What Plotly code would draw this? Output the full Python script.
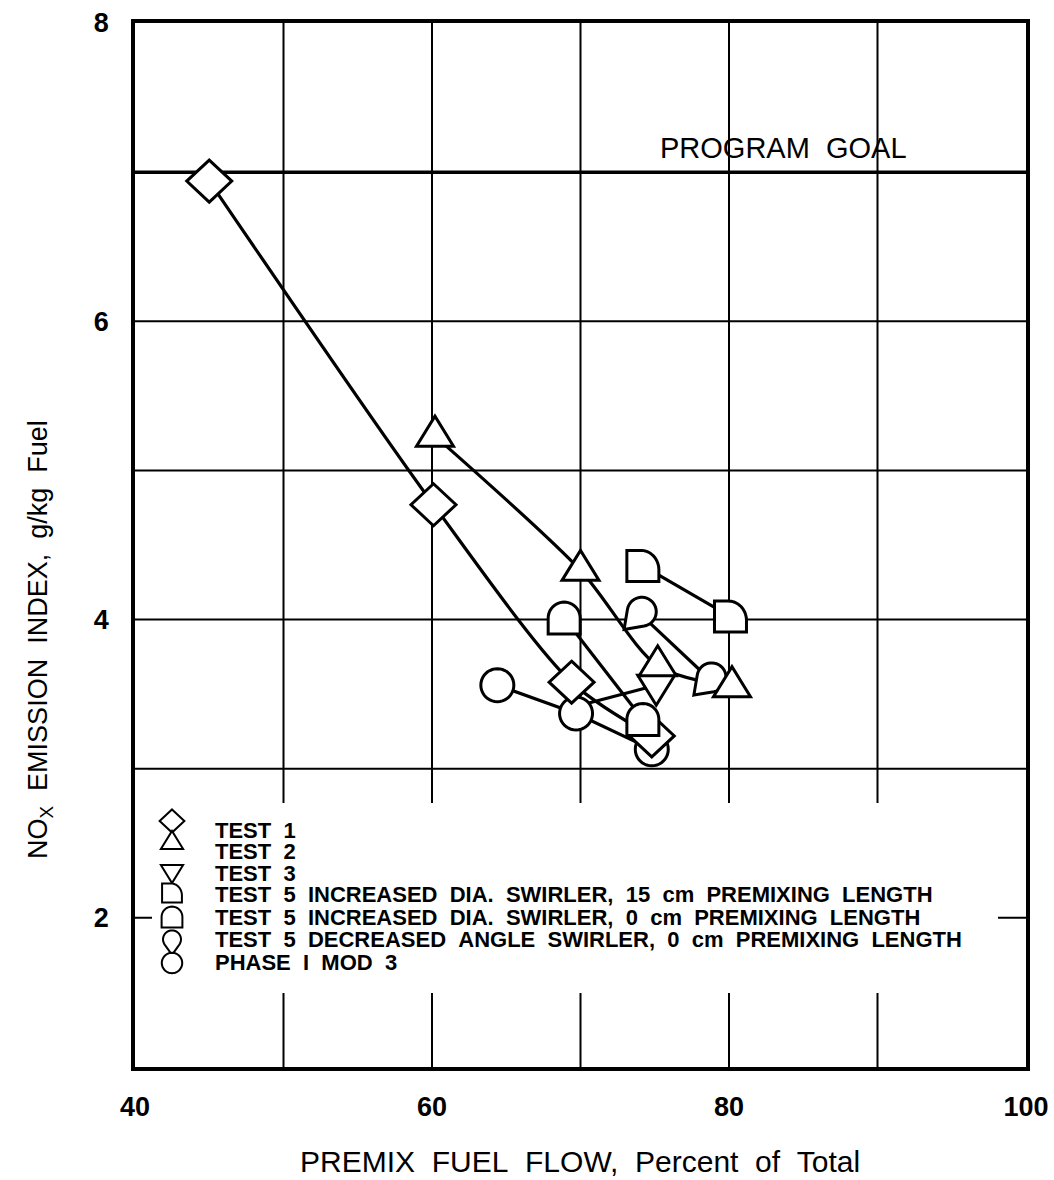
import math
import plotly.graph_objects as go

# ---------------- data ----------------
TEST1_X = [45.0, 60.1, 69.4, 74.8]
TEST1_Y = [6.94, 4.77, 3.58, 3.22]

TEST2_X = [60.2, 70.0, 75.2, 80.2]
TEST2_Y = [5.23, 4.33, 3.69, 3.55]

TEST3_X = [69.8, 75.1]
TEST3_Y = [3.42, 3.56]

T5_15CM_X = [74.2, 80.1]
T5_15CM_Y = [4.36, 4.02]

T5_0CM_X = [68.9, 74.2]
T5_0CM_Y = [4.01, 3.33]

T5_DA_X = [74.0, 78.7]
T5_DA_Y = [4.04, 3.60]

PH1_X = [64.4, 69.7, 74.8]
PH1_Y = [3.56, 3.37, 3.13]

PROGRAM_GOAL = 7

X_TICKS = [40, 60, 80, 100]
X_TICK_TEXT = ["40", "60", "80", "100"]
Y_TICKS = [2, 4, 6, 8]
Y_TICK_TEXT = ["2", "4", "6", "8"]
GRID_X = [50, 60, 70, 80, 90]
GRID_Y = [2, 3, 4, 5, 6, 7]

LEGEND_LABELS = [
    "TEST 1",
    "TEST 2",
    "TEST 3",
    "TEST 5 INCREASED DIA. SWIRLER, 15 cm PREMIXING LENGTH",
    "TEST 5 INCREASED DIA. SWIRLER, 0 cm PREMIXING LENGTH",
    "TEST 5 DECREASED ANGLE SWIRLER, 0 cm PREMIXING LENGTH",
    "PHASE I MOD 3",
]

X_TITLE = "PREMIX FUEL FLOW, Percent of Total"
Y_TITLE = "NO<sub>X</sub> EMISSION INDEX, g/kg Fuel"
GOAL_TEXT = "PROGRAM GOAL"

# ---------------- layout geometry (page pixels) ----------------
FIG_W, FIG_H = 1054, 1180
L, R, T, B = 135, 1026, 23, 1067   # plot area on the page


def px2paper_x(px):
    return (px - L) / (R - L)


def px2paper_y(py):
    return (B - py) / (B - T)


def wide(s):
    # hand-lettered original uses wide word gaps
    return s.replace(" ", "\u00a0\u00a0")


# ---------------- symbol outlines (pixel offsets, y up) ----------------
def arc(cx, cy, rx, ry, a0, a1, n=24):
    return [(cx + rx * math.cos(math.radians(a0 + (a1 - a0) * i / n)),
             cy + ry * math.sin(math.radians(a0 + (a1 - a0) * i / n))) for i in range(n + 1)]


def sym_diamond(s=1.0):
    hw, hh = 22.5 * s, 21 * s
    return [(0, hh), (hw, 0), (0, -hh), (-hw, 0)]


def sym_tri_up(s=1.0):
    w, h = 37 * s, 30 * s
    return [(-w / 2, -h / 3), (w / 2, -h / 3), (0, 2 * h / 3)]


def sym_tri_down(s=1.0):
    w, h = 37 * s, 30 * s
    return [(-w / 2, h / 3), (w / 2, h / 3), (0, -2 * h / 3)]


def sym_circle(s=1.0):
    return arc(0, 0, 16.5 * s, 16.5 * s, 0, 360, 40)[:-1]


def sym_d_round_top(s=1.0):
    hw, hh = 16 * s, 16 * s
    pts = [(-hw, -hh), (hw, -hh), (hw, 0)]
    pts += arc(0, 0, hw, hh, 0, 180, 24)[1:-1]
    pts += [(-hw, 0)]
    return pts


def sym_d_quarter(s=1.0):
    hw, hh = 16 * s, 15.5 * s
    cx, cy = -2 * s, -4 * s
    rx, ry = hw - cx, hh - cy
    pts = [(-hw, -hh), (-hw, hh), (cx, hh)]
    pts += arc(cx, cy, rx, ry, 90, 0, 20)[1:]
    pts += [(hw, -hh)]
    return pts


def sym_teardrop(s=1.0, direction=225):
    r, d = 14.5 * s, 25 * s
    th = math.radians(direction)
    ox, oy = -0.25 * (d - r) * math.cos(th), -0.25 * (d - r) * math.sin(th)
    tipx, tipy = ox + d * math.cos(th), oy + d * math.sin(th)
    alpha = math.degrees(math.acos(r / d))
    pts = [(tipx, tipy)]
    pts += arc(ox, oy, r, r, direction + alpha, direction + 360 - alpha, 30)
    return pts


def path_of(points):
    return "M" + " L".join(f"{x:.2f},{y:.2f}" for x, y in points) + " Z"


def marker_shape(points, ax, ay, xref="x", yref="y", lw=3):
    return dict(type="path", xref=xref, yref=yref,
                xsizemode="pixel", ysizemode="pixel",
                xanchor=ax, yanchor=ay, path=path_of(points),
                fillcolor="white", line=dict(color="black", width=lw),
                layer="above")


# series: (name, x, y, symbol fn, spline?, first point with a visible marker)
SERIES = [
    ("PHASE I MOD 3", PH1_X, PH1_Y, sym_circle, False, 0),
    ("TEST 1", TEST1_X, TEST1_Y, sym_diamond, True, 0),
    ("TEST 5 0 cm", T5_0CM_X, T5_0CM_Y, sym_d_round_top, False, 0),
    ("TEST 5 15 cm", T5_15CM_X, T5_15CM_Y, sym_d_quarter, False, 0),
    ("TEST 5 DEC ANGLE", T5_DA_X, T5_DA_Y, sym_teardrop, False, 0),
    ("TEST 3", TEST3_X, TEST3_Y, sym_tri_down, False, 1),
    ("TEST 2", TEST2_X, TEST2_Y, sym_tri_up, True, 0),
]

fig = go.Figure()
shapes = []

# grid (drawn as shapes so the key panel can mask it)
for gx in GRID_X:
    shapes.append(dict(type="line", xref="x", yref="paper", x0=gx, x1=gx, y0=0, y1=1,
                       line=dict(color="black", width=2), layer="below"))
for gy in GRID_Y:
    shapes.append(dict(type="line", xref="paper", yref="y", x0=0, x1=1, y0=gy, y1=gy,
                       line=dict(color="black", width=2), layer="below"))
# white panel behind the key
shapes.append(dict(type="rect", xref="paper", yref="paper",
                   x0=px2paper_x(152), x1=px2paper_x(998),
                   y0=px2paper_y(993), y1=px2paper_y(803),
                   fillcolor="white", line=dict(width=0), layer="below"))
# heavy program-goal line
shapes.append(dict(type="line", xref="paper", yref="y", x0=0, x1=1,
                   y0=PROGRAM_GOAL, y1=PROGRAM_GOAL,
                   line=dict(color="black", width=3.5), layer="below"))

for name, xs, ys, sym, smooth, first in SERIES:
    fig.add_trace(go.Scatter(
        x=xs, y=ys, mode="lines", name=name, showlegend=False,
        line=dict(color="black", width=3.2, shape="spline" if smooth else "linear",
                  smoothing=0.8),
        hoverinfo="x+y"))
    for i, (x, y) in enumerate(zip(xs, ys)):
        if i >= first:
            shapes.append(marker_shape(sym(), x, y))

# ---------------- key ----------------
KEY_SYMBOLS = [
    lambda: sym_diamond(0.55),
    lambda: sym_tri_up(0.6),
    lambda: sym_tri_down(0.6),
    lambda: sym_d_quarter(0.62),
    lambda: sym_d_round_top(0.65),
    lambda: sym_teardrop(0.62, 270),
    lambda: sym_circle(0.62),
]
KEY_SYM_PX = 172
KEY_SYM_PY = [821, 843, 871, 893, 917, 941, 963]
KEY_TEXT_PX = 213
KEY_TEXT_PY = [830, 851, 873, 895, 917, 939, 962]

annotations = []
for fn, spy, label, tpy in zip(KEY_SYMBOLS, KEY_SYM_PY, LEGEND_LABELS, KEY_TEXT_PY):
    shapes.append(marker_shape(fn(), px2paper_x(KEY_SYM_PX), px2paper_y(spy),
                               xref="paper", yref="paper", lw=2))
    annotations.append(dict(
        text=wide(label), xref="paper", yref="paper",
        x=px2paper_x(KEY_TEXT_PX), y=px2paper_y(tpy),
        xanchor="left", yanchor="middle", showarrow=False,
        font=dict(family="Liberation Sans, Arial", size=22, color="black", weight="bold")))

annotations.append(dict(
    text=wide(GOAL_TEXT), xref="paper", yref="paper",
    x=px2paper_x(783), y=px2paper_y(148), xanchor="center", yanchor="middle",
    showarrow=False, font=dict(family="Liberation Sans, Arial", size=29, color="black")))

annotations.append(dict(
    text=wide(X_TITLE), xref="paper", yref="paper",
    x=px2paper_x(580), y=px2paper_y(1161), xanchor="center", yanchor="middle",
    showarrow=False, font=dict(family="Liberation Sans, Arial", size=30, color="black")))

annotations.append(dict(
    text=wide(Y_TITLE), xref="paper", yref="paper", textangle=-90,
    x=px2paper_x(40), y=px2paper_y(640), xanchor="center", yanchor="middle",
    showarrow=False, font=dict(family="Liberation Sans, Arial", size=27, color="black")))

axis_common = dict(
    showline=True, mirror=True, linecolor="black", linewidth=3.5,
    showgrid=False, zeroline=False, ticks="", fixedrange=True,
    automargin=False, ticklabeloverflow="allow",
    tickfont=dict(family="Liberation Sans, Arial", size=27, color="black", weight="bold"),
)

fig.update_layout(
    width=FIG_W, height=FIG_H, autosize=False,
    margin=dict(l=L, r=FIG_W - R, t=T, b=FIG_H - B, pad=0, autoexpand=False),
    paper_bgcolor="white", plot_bgcolor="white",
    xaxis=dict(range=[40, 100], tickvals=X_TICKS, ticktext=X_TICK_TEXT,
               ticklabelstandoff=13, **axis_common),
    yaxis=dict(range=[1, 8], tickvals=Y_TICKS, ticktext=Y_TICK_TEXT,
               ticklabelstandoff=17, **axis_common),
    shapes=shapes,
    annotations=annotations,
    showlegend=False,
)

# remove the page's default body margin so the figure fills the window exactly
fig.write_html("out.html",
               config={"displayModeBar": False},
               post_script="document.body.style.margin='0';document.body.style.overflow='hidden';")
